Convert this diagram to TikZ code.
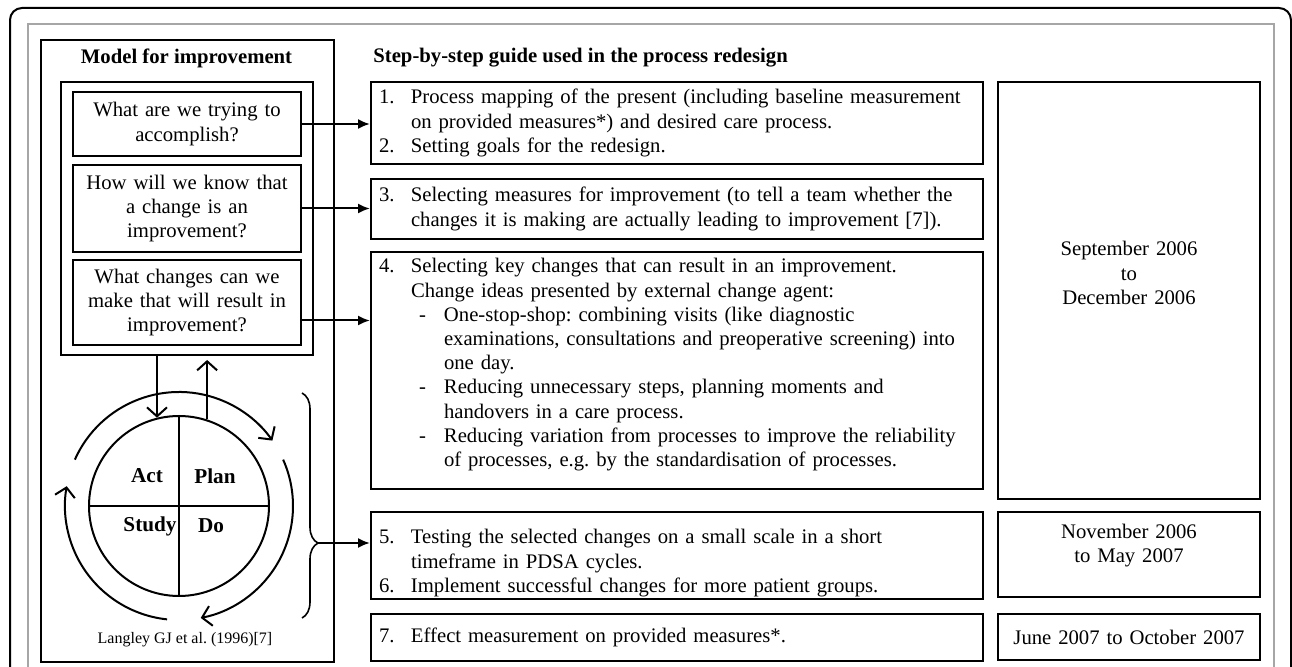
\documentclass[tikz,border=0pt]{standalone}
\usepackage{fontspec}
\setmainfont{Liberation Serif}
\usetikzlibrary{arrows.meta, positioning, fit, decorations.pathreplacing}
\frenchspacing
\newcommand{\stepno}[1]{\makebox[16pt][l]{#1}}
\newcommand{\stepcont}{\hspace*{16pt}}
\newcommand{\subdash}{\hspace*{20pt}\makebox[12.5pt][l]{-}}
\newcommand{\subcont}{\hspace*{32.5pt}}
\newcommand{\lowpad}[1]{\rule[-#1]{0pt}{#1}}
\newcommand{\highpad}[1]{\rule{0pt}{#1}}
\tikzset{
  basetext/.style={font=\fontsize{10.35}{12.1}\selectfont},
  headtext/.style={font=\fontsize{10.35}{12.1}\selectfont\bfseries, inner sep=0pt},
  panel/.style={rectangle, draw, line width=1pt},
  qbox/.style={rectangle, draw, line width=1pt, basetext, align=center,
    text width=108pt, inner xsep=3pt, inner ysep=3pt, minimum width=114pt},
  qframe/.style={rectangle, draw, line width=1pt, inner xsep=5.5pt, inner ysep=4.5pt},
  stepbox/.style={rectangle, draw, line width=1pt, basetext, align=left,
    text width=298pt, inner xsep=4pt, inner ysep=3pt},
  datebox/.style={rectangle, draw, line width=1pt, basetext, align=center,
    text width=125pt, inner xsep=3pt, inner ysep=3pt},
  pdsa/.style={circle, draw, line width=1pt, minimum size=90pt, inner sep=0pt},
  pdsalbl/.style={font=\fontsize{10.6}{12.2}\selectfont\bfseries, inner sep=0pt},
  citetext/.style={font=\fontsize{8}{9.6}\selectfont, inner sep=0pt},
  linkarr/.style={-{Latex[length=6pt,width=5pt]}, line width=1pt},
  cyclearr/.style={-{Straight Barb[length=4.5pt,width=10pt]}, line width=1pt},
  bracepath/.style={decorate, decoration={brace, amplitude=8pt, aspect=0.667}, line width=0.8pt},
}
\begin{document}
\begin{tikzpicture}[x=0.5pt, y=0.5pt]
  \useasboundingbox (0,0) rectangle (1292,-667);
  \clip (0,0) rectangle (1292,-667);
  \draw[line width=1pt, rounded corners=6pt] (10,-720) rectangle (1291,-8);
  \draw[gray!70, line width=0.7pt] (28,-720) rectangle (1274,-24);

  \node[panel, minimum width=146.5pt, minimum height=311pt, anchor=north west] (model) at (40,-39) {};
  \node[headtext] (mtitle) at (186.5,-58) {Model for improvement};
  \node[headtext, anchor=west] (stitle) at (373,-58) {Step-by-step guide used in the process redesign};

  \node[qbox, minimum height=32pt, anchor=north west] (q1) at (72,-91) {What are we trying to\\accomplish?};
  \node[qbox, minimum height=43.5pt, below=3.5pt of q1] (q2) {How will we know that\\a change is an\\improvement?};
  \node[qbox, minimum height=42.5pt, below=3pt of q2] (q3) {What changes can we\\make that will result in\\improvement?};
  \node[qframe, fit=(q1)(q2)(q3)] (qframe) {};

  \node[stepbox, minimum height=41pt, anchor=north west] (s1) at (370,-81)
    {\stepno{1.}Process mapping of the present (including baseline measurement\\
     \stepcont on provided measures*) and desired care process.\\
     \stepno{2.}Setting goals for the redesign.};
  \node[stepbox, minimum height=30pt, below=6.5pt of s1] (s3)
    {\stepno{3.}Selecting measures for improvement (to tell a team whether the\\
     \stepcont changes it is making are actually leading to improvement [7]).};
  \node[stepbox, minimum height=118.5pt, below=5.5pt of s3] (s4)
    {\stepno{4.}Selecting key changes that can result in an improvement.\\
     \stepcont Change ideas presented by external change agent:\\
     \subdash One-stop-shop: combining visits (like diagnostic\\
     \subcont examinations, consultations and preoperative screening) into\\
     \subcont one day.\\
     \subdash Reducing unnecessary steps, planning moments and\\
     \subcont handovers in a care process.\\
     \subdash Reducing variation from processes to improve the reliability\\
     \subcont of processes, e.g. by the standardisation of processes.\lowpad{8pt}};
  \node[stepbox, minimum height=43.5pt, inner ysep=1pt, below=10.5pt of s4] (s5)
    {\highpad{14.8pt}\stepno{5.}Testing the selected changes on a small scale in a short\\
     \stepcont timeframe in PDSA cycles.\\
     \stepno{6.}Implement successful changes for more patient groups.};
  \node[stepbox, minimum height=23.5pt, below=6.5pt of s5] (s7)
    {\stepno{7.}Effect measurement on provided measures*.};

  \node[datebox, minimum width=131pt, minimum height=208.5pt, anchor=north west] (d1) at (997,-81)
    {September 2006\\to\\December 2006\lowpad{17.5pt}};
  \node[datebox, minimum width=131pt, minimum height=42.5pt, below=5.5pt of d1] (d2)
    {November 2006\\to May 2007\lowpad{11pt}};
  \node[datebox, minimum width=131pt, minimum height=23pt, below=7.5pt of d2] (d3)
    {June 2007 to October 2007};

  \coordinate (q3out) at ([yshift=-9pt]q3.east);
  \draw[linkarr] (q1.east) -- (q1.east -| s1.west);
  \draw[linkarr] (q2.east) -- (q2.east -| s3.west);
  \draw[linkarr] (q3out) -- (q3out -| s4.west);

  \node[pdsa] (pdsa) at (179,-506) {};
  \draw[line width=1pt] (pdsa.north) -- (pdsa.south);
  \draw[line width=1pt] (pdsa.west) -- (pdsa.east);
  \node[pdsalbl] (act) at ([shift={(-32,30)}]pdsa.center) {Act};
  \node[pdsalbl] (plan) at ([shift={(36,30)}]pdsa.center) {Plan};
  \node[pdsalbl] (study) at ([shift={(-29,-20)}]pdsa.center) {Study};
  \node[pdsalbl] (do) at ([shift={(32,-20)}]pdsa.center) {Do};
  \draw[cyclearr] ([shift={(156:57pt)}]pdsa.center) arc[start angle=156, end angle=35, radius=57pt];
  \draw[cyclearr] ([shift={(24:57pt)}]pdsa.center) arc[start angle=24, end angle=-79, radius=57pt];
  \draw[cyclearr] ([shift={(-96:57pt)}]pdsa.center) arc[start angle=-96, end angle=-190, radius=57pt];

  \coordinate (uptip) at ([yshift=-2pt]pdsa.72 |- qframe.south);
  \draw[cyclearr] (pdsa.104 |- qframe.south) -- (pdsa.104);
  \draw[cyclearr] (pdsa.72) -- (uptip);

  \node[citetext] (cite) at (185,-640) {Langley GJ et al. (1996)[7]};

  \draw[bracepath] (302,-393) -- (302,-618);
  \coordinate (bracetip) at (318,-543);
  \draw[linkarr] (bracetip) -- (bracetip -| s5.west);
\end{tikzpicture}
\end{document}
